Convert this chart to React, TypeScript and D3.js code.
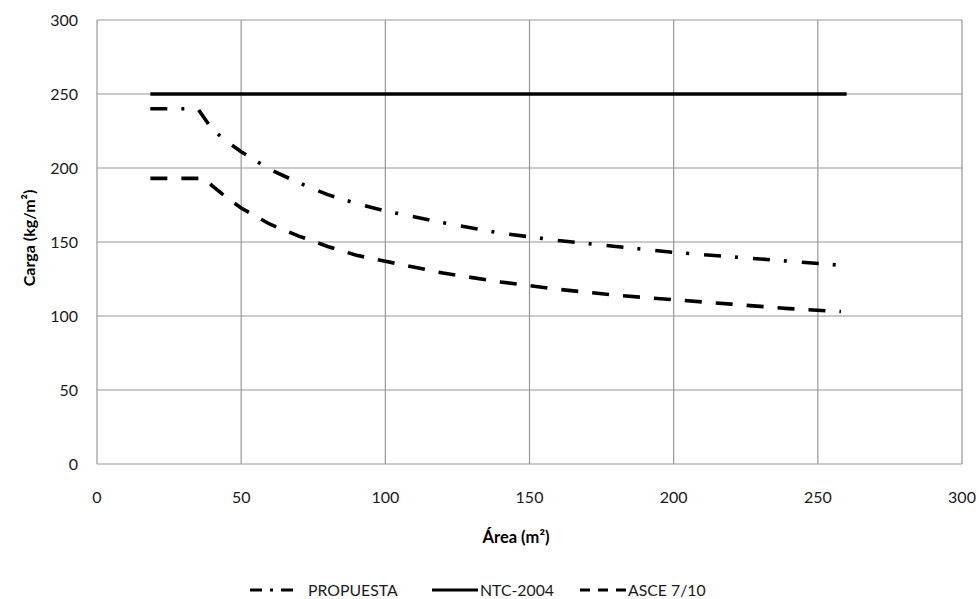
import React from "react";
import * as d3 from "d3";

const xTicks = [0, 50, 100, 150, 200, 250, 300];
const yTicks = [0, 50, 100, 150, 200, 250, 300];

const propuestaArea = [18.5, 35, 40, 45, 50, 60, 70, 80, 90, 100, 120, 140, 160, 180, 200, 220, 240, 260];
const propuestaCarga = [240, 240, 226, 218, 211, 199, 190, 182, 176, 171, 163, 156, 151, 147, 143, 140, 137, 134];

const ntcArea = [18.5, 260];
const ntcCarga = [250, 250];

const asceArea = [18.5, 37, 40, 45, 50, 60, 70, 80, 90, 100, 120, 140, 160, 180, 200, 220, 240, 258];
const asceCarga = [193, 193, 188, 180, 173, 162, 154, 147, 141, 137, 129, 123, 118, 114, 111, 108, 105, 103];

const seriesNames = ["PROPUESTA", "NTC-2004", "ASCE 7/10"];

const W = 979;
const H = 599;
const M = { left: 97, right: 962, top: 20, bottom: 464 };

const FONT = "Lato, 'Open Sans', sans-serif";

export default function App() {
  const x = d3.scaleLinear().domain([0, 300]).range([M.left, M.right]);
  const y = d3.scaleLinear().domain([0, 300]).range([M.bottom, M.top]);

  const line = d3
    .line<[number, number]>()
    .x((d) => x(d[0]))
    .y((d) => y(d[1]));

  const zip = (a: number[], b: number[]) => a.map((v, i) => [v, b[i]] as [number, number]);

  const series = [
    { name: seriesNames[0], d: line(zip(propuestaArea, propuestaCarga)), dash: "17,14,3,15" },
    { name: seriesNames[1], d: line(zip(ntcArea, ntcCarga)), dash: "none" },
    { name: seriesNames[2], d: line(zip(asceArea, asceCarga)), dash: "17,14" },
  ];

  const legend = [
    { x1: 250, x2: 296, tx: 308, dash: "12,8,3,8", name: seriesNames[0] },
    { x1: 432, x2: 478, tx: 480, dash: "none", name: seriesNames[1] },
    { x1: 580, x2: 626, tx: 628, dash: "10,8", name: seriesNames[2] },
  ];

  const grid = "#979797";

  return (
    <svg
      width={W}
      height={H}
      style={{ position: "absolute", left: 0, top: 0, background: "#fff" }}
      fontFamily={FONT}
    >
      <rect x={0} y={0} width={W} height={H} fill="#fff" />
      {xTicks.map((t) => (
        <line key={"gx" + t} x1={x(t)} x2={x(t)} y1={M.top} y2={M.bottom} stroke={grid} strokeWidth={1.2} />
      ))}
      {yTicks.map((t) => (
        <line key={"gy" + t} x1={M.left} x2={M.right} y1={y(t)} y2={y(t)} stroke={grid} strokeWidth={1.2} />
      ))}
      {yTicks.map((t) => (
        <text key={"ty" + t} x={78} y={y(t)} dy="0.35em" textAnchor="end" fontSize={16} fill="#1a1a1a">
          {t}
        </text>
      ))}
      {xTicks.map((t) => (
        <text key={"tx" + t} x={x(t)} y={497} dy="0.35em" textAnchor="middle" fontSize={16} fill="#1a1a1a">
          {t}
        </text>
      ))}
      {series.map((s) => (
        <path
          key={s.name}
          d={s.d || ""}
          fill="none"
          stroke="#000"
          strokeWidth={3.6}
          strokeDasharray={s.dash}
          strokeLinecap="butt"
        />
      ))}
      <text x={516} y={537} dy="0.35em" textAnchor="middle" fontSize={16.5} fontWeight="bold" fill="#000">
        Área (m²)
      </text>
      <text
        transform={`translate(29,${(M.top + M.bottom) / 2 - 4}) rotate(-90)`}
        textAnchor="middle"
        dy="0.35em"
        fontSize={16}
        fontWeight="bold"
        fill="#000"
      >
        Carga (kg/m²)
      </text>
      {legend.map((l) => (
        <g key={l.name}>
          <line x1={l.x1} x2={l.x2} y1={590} y2={590} stroke="#000" strokeWidth={3} strokeDasharray={l.dash} />
          <text x={l.tx} y={590} dy="0.35em" fontSize={15.8} fill="#1a1a1a">
            {l.name}
          </text>
        </g>
      ))}
    </svg>
  );
}
